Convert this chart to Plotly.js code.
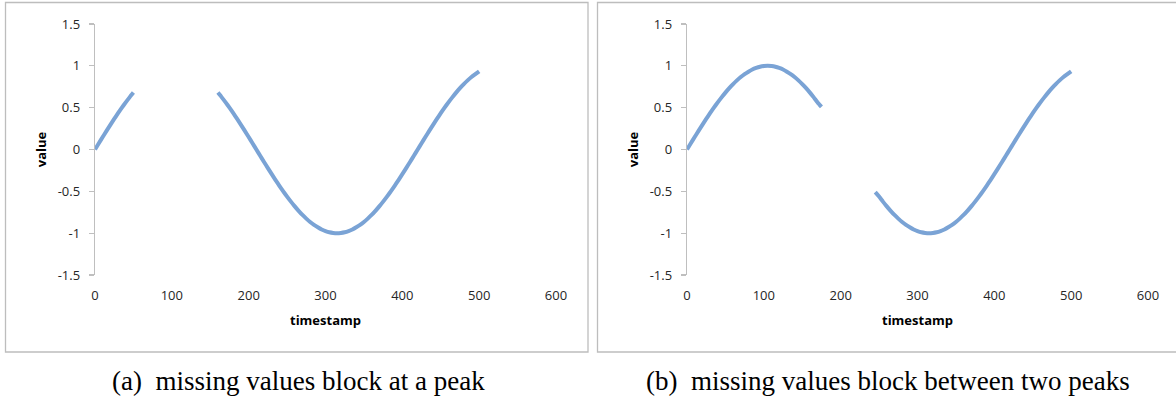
<!DOCTYPE html>
<html>
<head>
<meta charset="utf-8">
<script src="https://cdn.plot.ly/plotly-3.0.1.min.js"></script>
<style>
  html, body { margin: 0; padding: 0; background: #ffffff; }
  #chart { width: 1176px; height: 403px; }
</style>
</head>
<body>
<div id="chart"></div>
<script>
// ---- data ----
const timestamps = [
  0, 5, 10, 15, 20, 25, 30, 35, 40, 45,
  50, 55, 60, 65, 70, 75, 80, 85, 90, 95,
  100, 105, 110, 115, 120, 125, 130, 135, 140, 145,
  150, 155, 160, 165, 170, 175, 180, 185, 190, 195,
  200, 205, 210, 215, 220, 225, 230, 235, 240, 245,
  250, 255, 260, 265, 270, 275, 280, 285, 290, 295,
  300, 305, 310, 315, 320, 325, 330, 335, 340, 345,
  350, 355, 360, 365, 370, 375, 380, 385, 390, 395,
  400, 405, 410, 415, 420, 425, 430, 435, 440, 445,
  450, 455, 460, 465, 470, 475, 480, 485, 490, 495,
  500
];

// (a) missing values block at a peak
const valuesPeak = [
  0.000, 0.075, 0.149, 0.223, 0.295, 0.365, 0.434, 0.500, 0.563, 0.623,
  0.680, null, null, null, null, null, null, null, null, null,
  null, null, null, null, null, null, null, null, null, null,
  null, null, 0.680, 0.623, 0.563, 0.500, 0.434, 0.365, 0.295, 0.223,
  0.149, 0.075, 0.000, -0.075, -0.149, -0.223, -0.295, -0.365, -0.434, -0.500,
  -0.563, -0.623, -0.680, -0.733, -0.782, -0.826, -0.866, -0.901, -0.930, -0.956,
  -0.975, -0.989, -0.997, -1.000, -0.997, -0.989, -0.975, -0.956, -0.930, -0.901,
  -0.866, -0.826, -0.782, -0.733, -0.680, -0.623, -0.563, -0.500, -0.434, -0.365,
  -0.295, -0.223, -0.149, -0.075, 0.000, 0.075, 0.149, 0.223, 0.295, 0.365,
  0.434, 0.500, 0.563, 0.623, 0.680, 0.733, 0.782, 0.826, 0.866, 0.901,
  0.935
];

// (b) missing values block between two peaks
const valuesBetween = [
  0.000, 0.075, 0.149, 0.223, 0.295, 0.365, 0.434, 0.500, 0.563, 0.623,
  0.680, 0.733, 0.782, 0.826, 0.866, 0.901, 0.930, 0.956, 0.975, 0.989,
  0.997, 1.000, 0.997, 0.989, 0.975, 0.956, 0.930, 0.901, 0.866, 0.826,
  0.782, 0.733, 0.680, 0.623, 0.563, 0.510, null, null, null, null,
  null, null, null, null, null, null, null, null, null, -0.510,
  -0.563, -0.623, -0.680, -0.733, -0.782, -0.826, -0.866, -0.901, -0.930, -0.956,
  -0.975, -0.989, -0.997, -1.000, -0.997, -0.989, -0.975, -0.956, -0.930, -0.901,
  -0.866, -0.826, -0.782, -0.733, -0.680, -0.623, -0.563, -0.500, -0.434, -0.365,
  -0.295, -0.223, -0.149, -0.075, 0.000, 0.075, 0.149, 0.223, 0.295, 0.365,
  0.434, 0.500, 0.563, 0.623, 0.680, 0.733, 0.782, 0.826, 0.866, 0.901,
  0.935
];

const xTicks = [0, 100, 200, 300, 400, 500, 600];
const yTicks = [-1.5, -1, -0.5, 0, 0.5, 1, 1.5];
const yTickLabels = ['-1.5', '-1', '-0.5', '0', '0.5', '1', '1.5'];
const captions = ['(a)&nbsp; missing values block at a peak', '(b)&nbsp; missing values block between two peaks'];
const xTitle = 'timestamp';
const yTitle = 'value';

// ---- layout helpers ----
const W = 1176, H = 403;
const px = v => v / W;
const py = v => 1 - v / H;

const lineStyle = { color: '#7aa3d5', width: 4, shape: 'spline', smoothing: 0.6 };
const tickFont = { family: 'Open Sans, Noto Sans, sans-serif', size: 13, color: '#262626' };
const titleFont = { family: 'Open Sans, Noto Sans, sans-serif', size: 13, color: '#000000', weight: 'bold' };
const captionFont = { family: 'Liberation Serif, DejaVu Serif, serif', size: 27, color: '#000000' };

function xAxis(d0, d1, anchor) {
  return {
    domain: [d0, d1], anchor: anchor, range: [0, 600],
    tickmode: 'array', tickvals: xTicks,
    showline: false, showgrid: false, zeroline: false,
    ticks: '', ticklabelstandoff: 11,
    tickfont: tickFont,
    title: { text: '<b>' + xTitle + '</b>', font: titleFont, standoff: 12 },
    fixedrange: true, automargin: false
  };
}
function yAxis(anchor) {
  return {
    domain: [py(275), py(24)], anchor: anchor, range: [-1.5, 1.5],
    tickmode: 'array', tickvals: yTicks, ticktext: yTickLabels,
    showline: true, linecolor: '#bfbfbf', linewidth: 1.3,
    ticks: 'outside', ticklen: 5, tickcolor: '#bfbfbf', tickwidth: 1.3,
    ticklabelstandoff: 6,
    showgrid: false, zeroline: false,
    tickfont: tickFont,
    title: { text: '<b>' + yTitle + '</b>', font: titleFont, standoff: 8 },
    fixedrange: true, automargin: false
  };
}

const traces = [
  { x: timestamps, y: valuesPeak, type: 'scatter', mode: 'lines', line: lineStyle,
    connectgaps: false, xaxis: 'x', yaxis: 'y', hoverinfo: 'skip' },
  { x: timestamps, y: valuesBetween, type: 'scatter', mode: 'lines', line: lineStyle,
    connectgaps: false, xaxis: 'x2', yaxis: 'y2', hoverinfo: 'skip' }
];

const border = { color: '#bdbdbd', width: 1.3 };
const layout = {
  width: W, height: H,
  margin: { l: 0, r: 0, t: 0, b: 0, pad: 0 },
  paper_bgcolor: '#ffffff', plot_bgcolor: 'rgba(0,0,0,0)',
  showlegend: false,
  xaxis: xAxis(px(95), px(556), 'y'),
  yaxis: yAxis('x'),
  xaxis2: xAxis(px(687), px(1148), 'y2'),
  yaxis2: yAxis('x2'),
  shapes: [
    { type: 'rect', xref: 'paper', yref: 'paper', x0: px(5.5), x1: px(588), y0: py(352), y1: py(2.5), line: border, layer: 'below' },
    { type: 'rect', xref: 'paper', yref: 'paper', x0: px(597.5), x1: px(1180), y0: py(352), y1: py(2.5), line: border, layer: 'below' }
  ],
  annotations: [
    { text: captions[0], xref: 'paper', yref: 'paper', x: px(298), y: py(381), xanchor: 'center', yanchor: 'middle',
      showarrow: false, font: captionFont },
    { text: captions[1], xref: 'paper', yref: 'paper', x: px(888), y: py(381), xanchor: 'center', yanchor: 'middle',
      showarrow: false, font: captionFont }
  ]
};

Plotly.newPlot('chart', traces, layout, { staticPlot: true, displayModeBar: false });
</script>
</body>
</html>
